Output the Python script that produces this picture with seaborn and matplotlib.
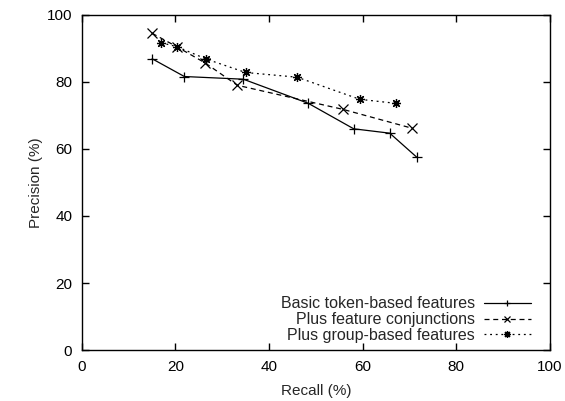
import matplotlib
matplotlib.use("Agg")
import matplotlib.pyplot as plt
import seaborn as sns

# data
basic_recall = [15.0, 21.9, 34.5, 48.4, 58.1, 65.8, 71.6]
basic_precision = [86.9, 81.6, 80.8, 73.6, 66.0, 64.7, 57.5]

conj_recall = [15.0, 20.4, 26.4, 33.2, 55.8, 70.5]
conj_precision = [94.5, 90.4, 85.6, 79.0, 71.8, 66.2]

group_recall = [16.9, 20.3, 26.6, 35.0, 46.0, 59.4, 67.1]
group_precision = [91.7, 90.5, 86.8, 82.8, 81.4, 74.8, 73.6]

labels = ["Basic token-based features",
          "Plus feature conjunctions",
          "Plus group-based features"]

# ---------------------- STYLE ----------------------
sns.set_style("ticks")
plt.rcParams['font.family'] = ['Liberation Sans', 'DejaVu Sans']
plt.rcParams['font.size'] = 11
plt.rcParams['xtick.direction'] = 'in'
plt.rcParams['ytick.direction'] = 'in'

fig = plt.figure(figsize=(5.65, 4.01), dpi=100)
ax = fig.add_axes([0.145, 0.127, 0.828, 0.836])

series = [
    (basic_recall, basic_precision, '+', '-'),
    (conj_recall, conj_precision, 'x', (0, (4, 3))),
    (group_recall, group_precision, (8, 2, 0), (0, (1.5, 3))),
]

for (x, y, mk, ls), lab in zip(series, labels):
    sns.lineplot(
        x=x, y=y, ax=ax,
        sort=False,
        color='black',
        linewidth=0.9,
        linestyle=ls,
        marker=mk,
        markersize=6.5,
        markeredgewidth=0.9,
        markeredgecolor='black',
        label=lab
    )

ax.set_xlim(0, 100)
ax.set_ylim(0, 100)
ax.set_xticks(range(0, 101, 20))
ax.set_yticks(range(0, 101, 20))
ax.set_xlabel("Recall (%)", labelpad=7)
ax.set_ylabel("Precision (%)", labelpad=3)

for s in ax.spines.values():
    s.set_visible(True)
    s.set_color('black')
    s.set_linewidth(1.0)
ax.tick_params(which='both', top=True, right=True, length=5, width=1.0,
               colors='black', labelsize=11, pad=7)
ax.grid(False)

leg = ax.legend(
    loc='lower right',
    bbox_to_anchor=(0.959, 0.021),
    frameon=False,
    markerfirst=False,
    handlelength=2.9,
    labelspacing=0.05,
    borderaxespad=0.0,
    borderpad=0.0,
    handletextpad=0.6,
    fontsize=11.5
)
for h in leg.legend_handles:
    h.set_markersize(5)

fig.savefig("out.png", dpi=100)
